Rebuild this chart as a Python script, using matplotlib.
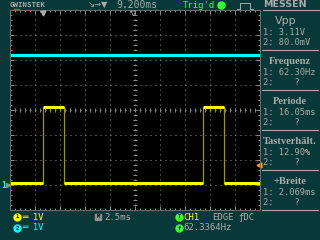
import numpy as np
import matplotlib
matplotlib.use("Agg")
import matplotlib.pyplot as plt
from matplotlib.ticker import MultipleLocator

# Bildschirm: 10 x 8 Teilungen, 2.5 ms/div, 1 V/div
ms_per_div = 2.5
volt_per_div = 1.0

# CH1 (gelb): Rechteck, Flanken in ms ab linkem Rand
ch1_edges_ms = [3.30, 5.37, 19.33, 21.40]
ch1_low_v = 0.0
ch1_high_v = 3.04
ch1_offset_div = -2.92

# CH2 (cyan): flach
ch2_level_v = 0.0
ch2_offset_div = 2.18

trig_level_div = -2.2
trig_pos_ms = 3.25

# Messwerte rechts
mess_titel = ["Vpp", "Frequenz", "Periode", "Tastverhält.", "+Breite"]
mess_ch1 = ["3.11V", "62.30Hz", "16.05ms", "12.90%", "2.069ms"]
mess_ch2 = ["80.0mV", "   ?", "   ?", "   ?", "   ?"]

bg = "#083838"
grau = "#a8acac"
gelb = "#ffff00"
cyan = "#00ffff"
gruen = "#33ff33"

fig = plt.figure(figsize=(3.2, 2.4), dpi=100, facecolor=bg)

# Oszilloskop-Bildschirm
ax = fig.add_axes([10 / 320, 30 / 240, 250 / 320, 200 / 240])
ax.set_facecolor("black")
t_end = 10 * ms_per_div
ax.set_xlim(0, t_end)
ax.set_ylim(-4, 4)
for s in ax.spines.values():
    s.set_color("#707070")
    s.set_linewidth(0.7)
ax.xaxis.set_major_locator(MultipleLocator(ms_per_div))
ax.xaxis.set_minor_locator(MultipleLocator(ms_per_div / 5))
ax.yaxis.set_major_locator(MultipleLocator(1))
ax.yaxis.set_minor_locator(MultipleLocator(0.2))
ax.tick_params(which="both", direction="in", top=True, right=True,
               labelbottom=False, labelleft=False, color="#909090", width=0.7)
ax.tick_params(which="major", length=3)
ax.tick_params(which="minor", length=1.5)

# Punktraster
for k in range(1, 10):
    ax.axvline(k * ms_per_div, color="#8a8a8a", lw=0.72, ls=(0, (1, 4)))
for k in range(-3, 4):
    ax.axhline(k, color="#8a8a8a", lw=0.72, ls=(0, (1, 4)))
# Mittellinien mit Strichen
mx = np.arange(0, t_end + 0.01, ms_per_div / 5)
ax.scatter(mx, np.zeros_like(mx), marker="|", s=6, color="#8a8a8a", lw=0.7)
my = np.arange(-4, 4.01, 0.2)
ax.scatter(np.full_like(my, t_end / 2), my, marker="_", s=6, color="#8a8a8a", lw=0.7)

# CH2
ax.plot([0, t_end], [ch2_level_v / volt_per_div + ch2_offset_div] * 2,
        color=cyan, lw=2.3, solid_capstyle="butt")

# CH1 Stufenkurve
t = [0]
v = [ch1_low_v]
lvl = ch1_low_v
for e in ch1_edges_ms:
    t += [e, e]
    nxt = ch1_high_v if lvl == ch1_low_v else ch1_low_v
    v += [lvl, nxt]
    lvl = nxt
t.append(t_end)
v.append(lvl)
t = np.array(t)
y1 = np.array(v) / volt_per_div + ch1_offset_div
ax.plot(t, y1, color="#9a9a00", lw=0.9)
for i in range(0, len(t) - 1, 2):
    ax.plot(t[i:i + 2], y1[i:i + 2], color=gelb, lw=2.2, solid_capstyle="butt")

# Triggerpegel
ax.plot([t_end - 0.15], [trig_level_div], marker="<", color="#ff9900",
        ms=3.5, clip_on=False)

# Overlay fuer Texte (Pixelkoordinaten)
ov = fig.add_axes([0, 0, 1, 1])
ov.set_xlim(0, 320)
ov.set_ylim(240, 0)
ov.axis("off")
ov.patch.set_alpha(0)

mono = "DejaVu Sans Mono"

# Kopfzeile
ov.text(10, 5, "GWINSTEK", color=grau, fontsize=5.3, family=mono,
        fontweight="bold", va="center", ha="left")
ov.plot([14, 19], [8.5, 8.5], color="#ff3030", lw=1)
ov.text(88, 5, "↘→▼", color=grau, fontsize=6, family="DejaVu Sans",
        va="center", ha="left")
ov.text(116, 5, "9.200ms", color=grau, fontsize=7, family=mono,
        va="center", ha="left")
ov.text(183, 5, "Trig'd", color=gruen, fontsize=6.5, family=mono,
        va="center", ha="left")
ov.plot([220.5], [5], marker="o", color=gruen, ms=5)
ov.plot([237, 240, 240, 250, 250, 253], [9, 9, 2.5, 2.5, 9, 9], color=grau, lw=0.7)
ov.plot([10 + trig_pos_ms / ms_per_div * 25], [12.5], marker="v", color=grau, ms=3.5)
ov.plot([133], [13], marker="v", mfc="none", mec=grau, ms=3.5, mew=0.6)

# Kanalmarker links
ov.text(4, 185, "1", color=cyan, fontsize=5.5, family=mono, fontweight="bold",
        va="center", ha="center")
ov.plot([8], [185], marker=">", color="#909090", ms=3)

# Messpanel
ov.text(285, 4.5, "MESSEN", color=grau, fontsize=6.8, family="DejaVu Sans",
        fontweight="bold", va="center", ha="center")
ov.plot([263, 320], [10, 10], color=grau, lw=0.8)
block_y = [21, 61, 101, 141, 181]
for i in range(len(mess_titel)):
    y0 = block_y[i]
    if i == 0:
        ov.text(286, y0, mess_titel[i], color=grau, fontsize=8,
                family="DejaVu Sans", va="center", ha="center")
    else:
        ov.text(290, y0, mess_titel[i], color=grau, fontsize=7.6,
                family="Liberation Serif", fontweight="bold",
                va="center", ha="center")
    ov.text(263, y0 + 11.5, "1: " + mess_ch1[i], color=grau, fontsize=6.3,
            family=mono, va="center", ha="left")
    ov.text(263, y0 + 21.5, "2: " + mess_ch2[i], color=grau, fontsize=6.3,
            family=mono, va="center", ha="left")
    ov.plot([262, 318], [y0 + 29, y0 + 29], color=grau, lw=0.8)

# Fusszeile
ov.plot([17], [217], marker="o", color=gelb, ms=5)
ov.text(17, 217, "1", color="black", fontsize=4, family=mono,
        fontweight="bold", va="center", ha="center")
ov.text(22, 217, "═ 1V", color=gelb, fontsize=6.5, family=mono,
        va="center", ha="left")
ov.plot([17], [228], marker="o", color=cyan, ms=5)
ov.text(17, 228, "2", color="black", fontsize=4, family=mono,
        fontweight="bold", va="center", ha="center")
ov.text(22, 228, "═ 1V", color=cyan, fontsize=6.5, family=mono,
        va="center", ha="left")

ov.plot([98], [217], marker="s", color="#909090", ms=5)
ov.text(98, 217, "M", color="black", fontsize=4, family=mono,
        fontweight="bold", va="center", ha="center")
ov.text(104, 217, "2.5ms", color=grau, fontsize=6.5, family=mono,
        va="center", ha="left")

ov.plot([179], [217], marker="o", color=gruen, ms=5)
ov.text(179, 217, "T", color="black", fontsize=4, family=mono,
        fontweight="bold", va="center", ha="center")
ov.text(183, 217, "CH1", color=gelb, fontsize=6.5, family=mono,
        va="center", ha="left")
ov.text(212, 217, "EDGE", color=grau, fontsize=6.5, family=mono,
        va="center", ha="left")
ov.text(238, 217, "ƒDC", color=grau, fontsize=6.5, family=mono,
        va="center", ha="left")
ov.plot([179], [228], marker="o", color=gruen, ms=5)
ov.text(179, 228, "f", color="black", fontsize=4, family=mono,
        fontweight="bold", va="center", ha="center")
ov.text(183, 228, "62.3364Hz", color=grau, fontsize=6.5, family=mono,
        va="center", ha="left")

fig.savefig("out.png", dpi=100, facecolor=bg)
